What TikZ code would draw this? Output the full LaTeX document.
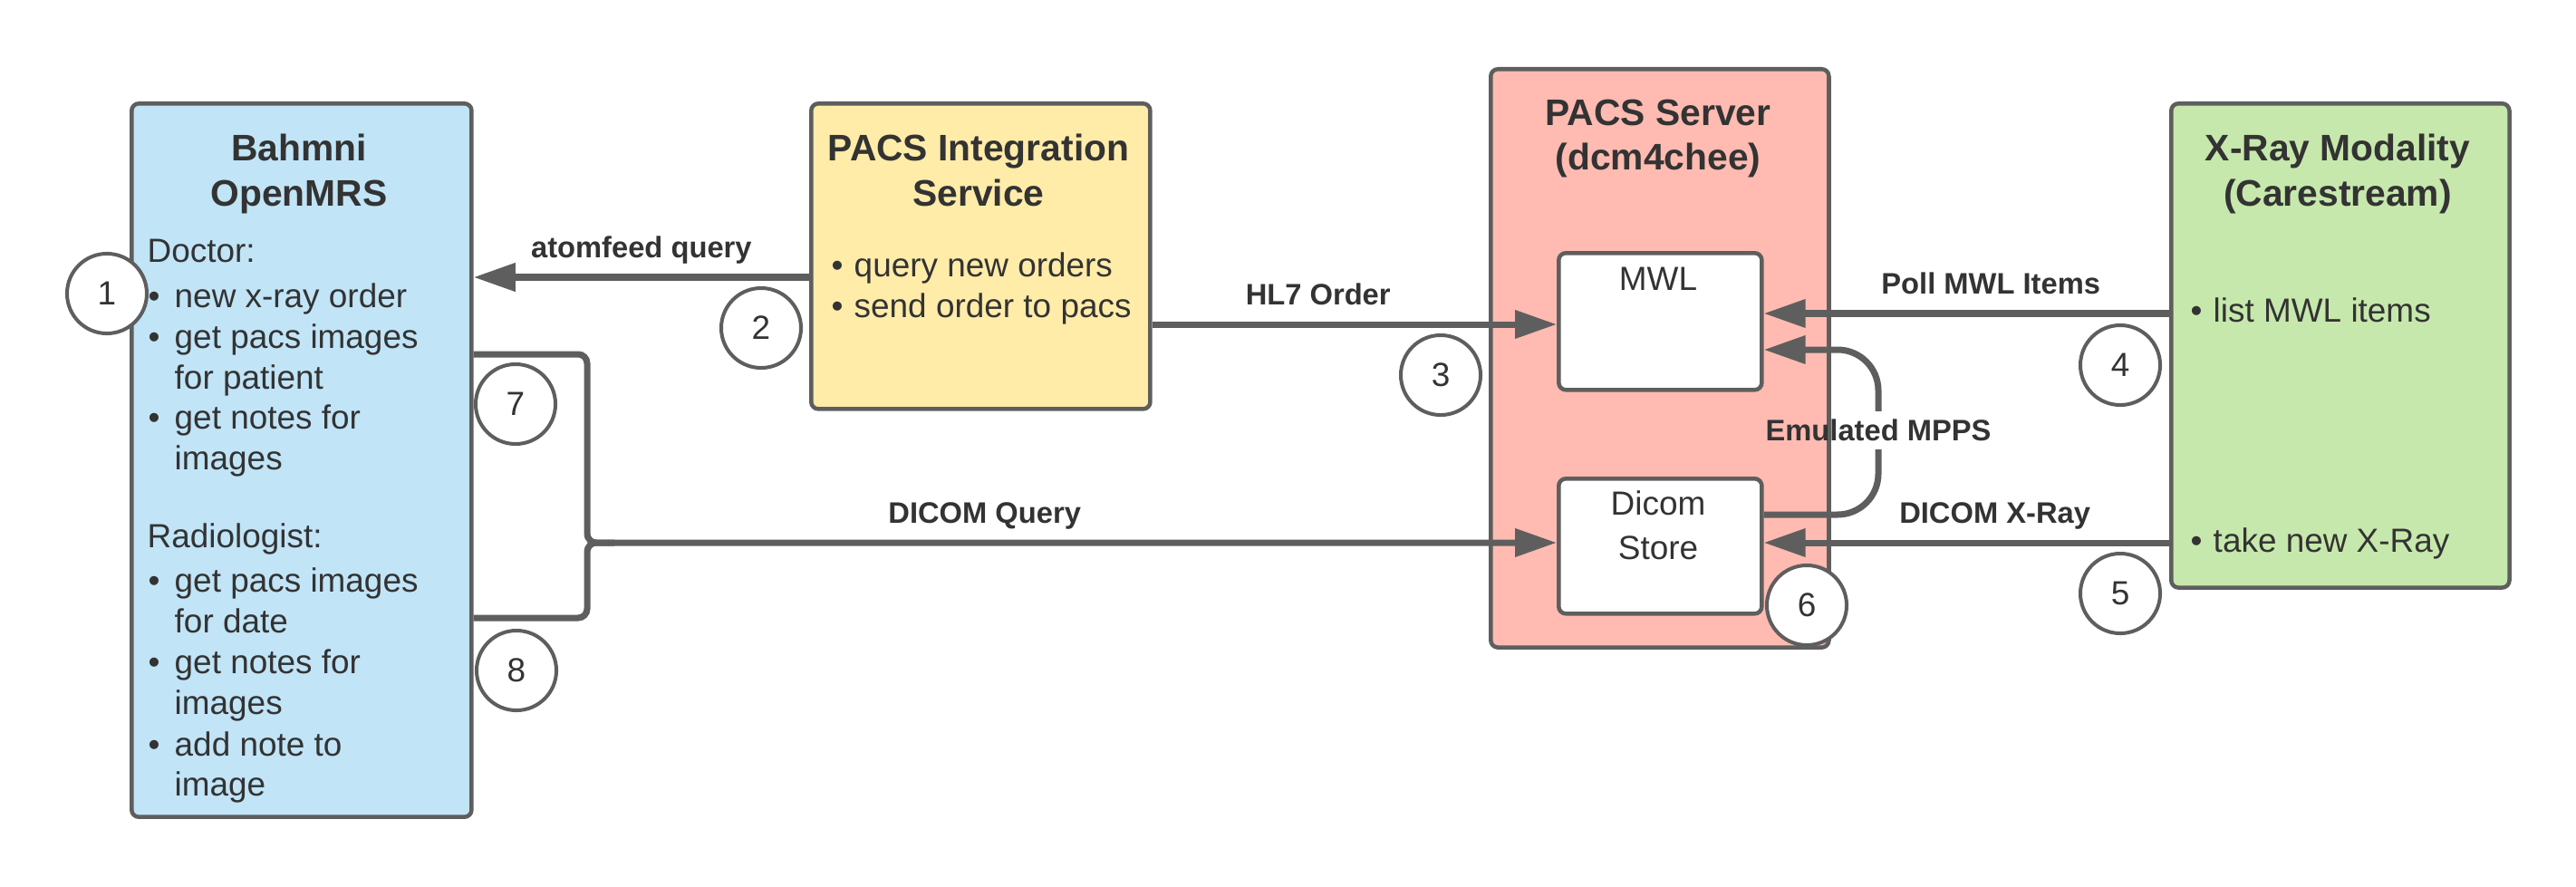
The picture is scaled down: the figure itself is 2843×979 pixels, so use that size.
\documentclass[tikz,border=0pt]{standalone}
\usepackage{fontspec}
\setmainfont{Liberation Sans}
\usetikzlibrary{arrows.meta}
\definecolor{edge}{HTML}{5E5E5E}
\definecolor{ink}{HTML}{333333}
\definecolor{bahmnifill}{HTML}{C1E4F7}
\definecolor{servicefill}{HTML}{FFECA9}
\definecolor{pacsfill}{HTML}{FFBBB1}
\definecolor{xrayfill}{HTML}{C7E8AC}

\begin{document}
\begin{tikzpicture}[x=0.01cm, y=-0.01cm,
    box/.style={draw=edge, line width=0.045cm, rounded corners=0.08cm, anchor=north west, inner sep=0pt},
    ttl/.style={anchor=base, inner sep=0pt, text=ink, font=\fontsize{11.6}{14}\selectfont\bfseries},
    txt/.style={anchor=base west, inner sep=0pt, text=ink, font=\fontsize{10.5}{12.8}\selectfont},
    lbl/.style={inner sep=0pt, text=ink, font=\fontsize{9.3}{11}\selectfont\bfseries},
    tag/.style={lbl, anchor=base, yshift=0.21cm},
    wire/.style={draw=edge, line width=0.07cm},
    flow/.style={wire, -{Triangle[length=0.46cm, width=0.30cm]}},
    num/.style={circle, draw=edge, line width=0.04cm, fill=white, minimum size=0.88cm, inner sep=0pt, text=ink, font=\fontsize{10.5}{12}\selectfont}]
      \useasboundingbox (0,0) rectangle (2843,979);

      \node[box, fill=bahmnifill, minimum width=3.75cm, minimum height=7.87cm] (bahmni) at (143,112) {};
      \node[box, fill=servicefill, minimum width=3.74cm, minimum height=3.37cm] (pacsint) at (893,112) {};
      \node[box, fill=pacsfill, minimum width=3.73cm, minimum height=6.38cm] (pacs) at (1643,74) {};
      \node[box, fill=xrayfill, minimum width=3.73cm, minimum height=5.34cm] (xray) at (2394,112) {};
      \node[box, fill=white, minimum width=2.24cm, minimum height=1.51cm] (mwl) at (1718,277) {};
      \node[box, fill=white, minimum width=2.24cm, minimum height=1.49cm] (store) at (1718,526) {};

      \node[ttl] (tb1) at (330,178) {Bahmni};
      \node[ttl] (tb2) at (330,227) {OpenMRS};
      \node[ttl] (ts1) at (1080,178) {PACS Integration};
      \node[ttl] (ts2) at (1080,227) {Service};
      \node[ttl] (tp1) at (1830,139) {PACS Server};
      \node[ttl] (tp2) at (1830,188) {(dcm4chee)};
      \node[ttl] (tx1) at (2580,177) {X-Ray Modality};
      \node[ttl] (tx2) at (2580,227) {(Carestream)};

      \node[txt] (doctor) at (162,289) {Doctor:};
      \node[txt] (radiologist) at (162,604) {Radiologist:};
      \foreach \y/\word in {339/new x-ray order, 384/get pacs images, 429/for patient,
          473/get notes for, 518/images, 653/get pacs images, 698/for date,
          743/get notes for, 788/images, 834/add note to, 878/image}
        \node[txt] (bt\y) at (192,\y) {\word};
      \foreach \y in {339,384,473,653,743,834}
        \node[txt] (bb\y) at (163,\y) {\textbullet};
      \foreach \y/\word in {305/query new orders, 350/send order to pacs} {
        \node[txt] (sb\y) at (917,\y) {\textbullet};
        \node[txt] (st\y) at (942,\y) {\word};
      }
      \foreach \y/\word in {355/list MWL items, 609/take new X-Ray} {
        \node[txt] (xb\y) at (2417,\y) {\textbullet};
        \node[txt] (xt\y) at (2442,\y) {\word};
      }
      \node[txt, anchor=base] (mwlt) at (1830,320) {MWL};
      \node[txt, anchor=base] (storet1) at (1830,568) {Dicom};
      \node[txt, anchor=base] (storet2) at (1830,617) {Store};

      \coordinate (lvA) at (0,306);
      \coordinate (lvH) at (0,358);
      \coordinate (lvP) at (0,346);
      \coordinate (lvD) at (0,599);
      \coordinate (q7) at (648,391);
      \coordinate (q8) at (648,682);
      \coordinate (jn) at (648,599);
      \coordinate (mpt) at (2073,386);
      \coordinate (mpb) at (2073,568);

      \draw[flow] (pacsint.west |- lvA) -- (bahmni.east |- lvA) node[tag, pos=0.5] {atomfeed query};
      \draw[flow] (pacsint.east |- lvH) -- (mwl.west |- lvH) node[tag, pos=0.41] {HL7 Order};
      \draw[flow] (xray.west |- lvP) -- (mwl.east |- lvP) node[tag, pos=0.44] {Poll MWL Items};
      \draw[flow] (xray.west |- lvD) -- (store.east |- lvD) node[tag, pos=0.43] {DICOM X-Ray};
      \draw[flow, rounded corners=0.1cm] (bahmni.east |- q7) -- (q7) -- (jn) -- (store.west |- jn) node[tag, pos=0.41] {DICOM Query};
      \draw[wire, rounded corners=0.1cm] (bahmni.east |- q8) -- (q8) -- (jn) -- ++(30,0);

      \node[lbl, minimum height=0.41cm] (mpps) at (2073,475) {Emulated MPPS};
      \draw[wire, rounded corners=0.45cm] (store.east |- mpb) -- (mpb) -- (mpps.south);
      \draw[flow, rounded corners=0.45cm] (mpps.north) -- (mpt) -- (mwl.east |- mpt);

      \foreach \n/\x/\y in {1/118/324, 2/840/362, 3/1590/414, 4/2340/403,
          5/2340/655, 6/1994/668, 7/569/446, 8/570/740}
        \node[num] (c\n) at (\x,\y) {\n};
\end{tikzpicture}
\end{document}
